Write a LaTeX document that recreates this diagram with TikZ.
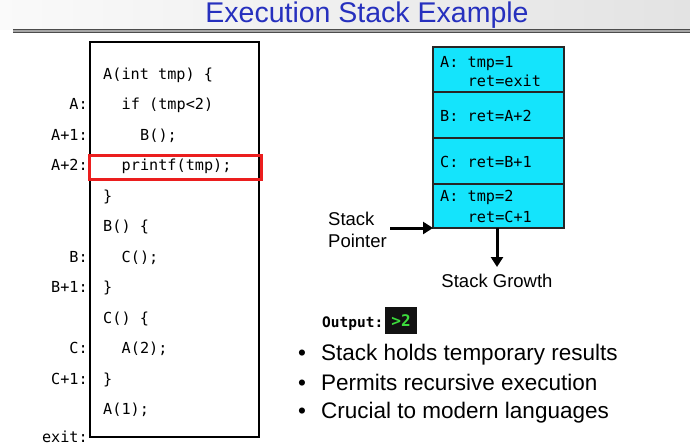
\documentclass[tikz,border=0pt]{standalone}
\usepackage{fontspec}
\setmainfont{Liberation Sans}
\newfontfamily\codefont{DejaVu Sans Mono}
\usetikzlibrary{arrows.meta}
\definecolor{titleblue}{RGB}{38,48,190}
\definecolor{stackcyan}{RGB}{20,228,252}
\definecolor{outgreen}{RGB}{60,220,60}
\definecolor{framered}{RGB}{235,30,30}
\tikzset{
  code/.style={anchor=base west,inner sep=0pt,font=\codefont\fontsize{15.2}{18}\selectfont},
  lbl/.style={anchor=base east,inner sep=0pt,font=\codefont\fontsize{15.2}{18}\selectfont},
  sans/.style={anchor=base west,inner sep=0pt,font=\fontsize{18.5}{22}\selectfont},
  bullettext/.style={anchor=base west,inner sep=0pt,font=\fontsize{22.5}{26}\selectfont},
  frame/.style={draw=black,line width=2pt,fill=white},
  cell/.style={draw=black!85,line width=1.8pt,fill=stackcyan},
  bigarrow/.style={line width=3pt,-{Triangle[length=10pt,width=12pt]}}
}
\begin{document}
\begin{tikzpicture}[x=1pt,y=-1pt]
\useasboundingbox (0,0) rectangle (690,447);
% header background
\shade[left color=gray!4,right color=gray!22] (0,0) rectangle (690,29);
\fill[white] (0,33) rectangle (690,447);
\fill[gray!70] (13,29) rectangle (690,32.5);
\draw[black!70,line width=0.8pt] (13,29.4) -- (690,29.4);
\draw[black!70,line width=0.8pt] (13,32.1) -- (690,32.1);
\node[anchor=base,inner sep=0pt,text=titleblue,font=\fontsize{28.5}{32}\selectfont] (title) at (367,22.5) {Execution Stack Example};

% code box
\draw[frame] (90,42) rectangle (259,437);
\node[code] (c1) at (103,79) {A(int tmp) \{};
\node[code] (c2) at (121.5,109.5) {if (tmp<2)};
\node[code] (c3) at (140,140) {B();};
\node[code] (c4) at (121.5,170.5) {printf(tmp);};
\node[code] (c5) at (103,201) {\}};
\node[code] (c6) at (103,231.5) {B() \{};
\node[code] (c7) at (121.5,262) {C();};
\node[code] (c8) at (103,292.5) {\}};
\node[code] (c9) at (103,323) {C() \{};
\node[code] (c10) at (121.5,353.5) {A(2);};
\node[code] (c11) at (103,384) {\}};
\node[code] (c12) at (103,414.5) {A(1);};
\draw[framered,line width=3pt] (89,155) rectangle (261,179);

% labels
\node[lbl] (la) at (88,109.5) {A:};
\node[lbl] (la1) at (88,140) {A+1:};
\node[lbl] (la2) at (88,170.5) {A+2:};
\node[lbl] (lb) at (88,262) {B:};
\node[lbl] (lb1) at (88,292.5) {B+1:};
\node[lbl] (lc) at (88,353.5) {C:};
\node[lbl] (lc1) at (88,384) {C+1:};
\node[lbl] (lexit) at (88,442) {exit:};

% stack
\draw[cell] (433,47) rectangle (564,92);
\draw[cell] (433,92) rectangle (564,138);
\draw[cell] (433,138) rectangle (564,184);
\draw[cell] (433,184) rectangle (564,228);
\coordinate (sbl) at (433,228);
\coordinate (sbm) at (497,228);
\node[code] (s1) at (440,67) {A: tmp=1};
\node[code] (s2) at (467.6,86) {ret=exit};
\node[code] (s3) at (440,121) {B: ret=A+2};
\node[code] (s4) at (440,167) {C: ret=B+1};
\node[code] (s5) at (440,201) {A: tmp=2};
\node[code] (s6) at (467.6,222) {ret=C+1};

% stack pointer
\node[sans] (sp1) at (328,225) {Stack};
\node[sans] (sp2) at (328,247) {Pointer};
\coordinate (spstart) at (390,228);
\draw[bigarrow] (spstart) -- (sbl);
% stack growth
\coordinate (sgend) at (497,267);
\draw[bigarrow] (sbm) -- (sgend);
\node[anchor=base,inner sep=0pt,font=\fontsize{18.5}{22}\selectfont] (sg) at (497,287) {Stack Growth};

% output
\node[anchor=base west,inner sep=0pt,font=\codefont\bfseries\fontsize{14.5}{16}\selectfont] (out) at (322,327) {Output:};
\fill[black!93] (385,307) rectangle (417,334);
\node[inner sep=0pt,text=outgreen,font=\codefont\bfseries\fontsize{16}{16}\selectfont] (outval) at (401,321) {>2};

% bullets
\node[bullettext] (b1) at (321,360) {Stack holds temporary results};
\node[bullettext] (b2) at (321,390) {Permits recursive execution};
\node[bullettext] (b3) at (321,418) {Crucial to modern languages};
\node[bullettext] (d1) at (298,360) {•};
\node[bullettext] (d2) at (298,390) {•};
\node[bullettext] (d3) at (298,418) {•};
\end{tikzpicture}
\end{document}
